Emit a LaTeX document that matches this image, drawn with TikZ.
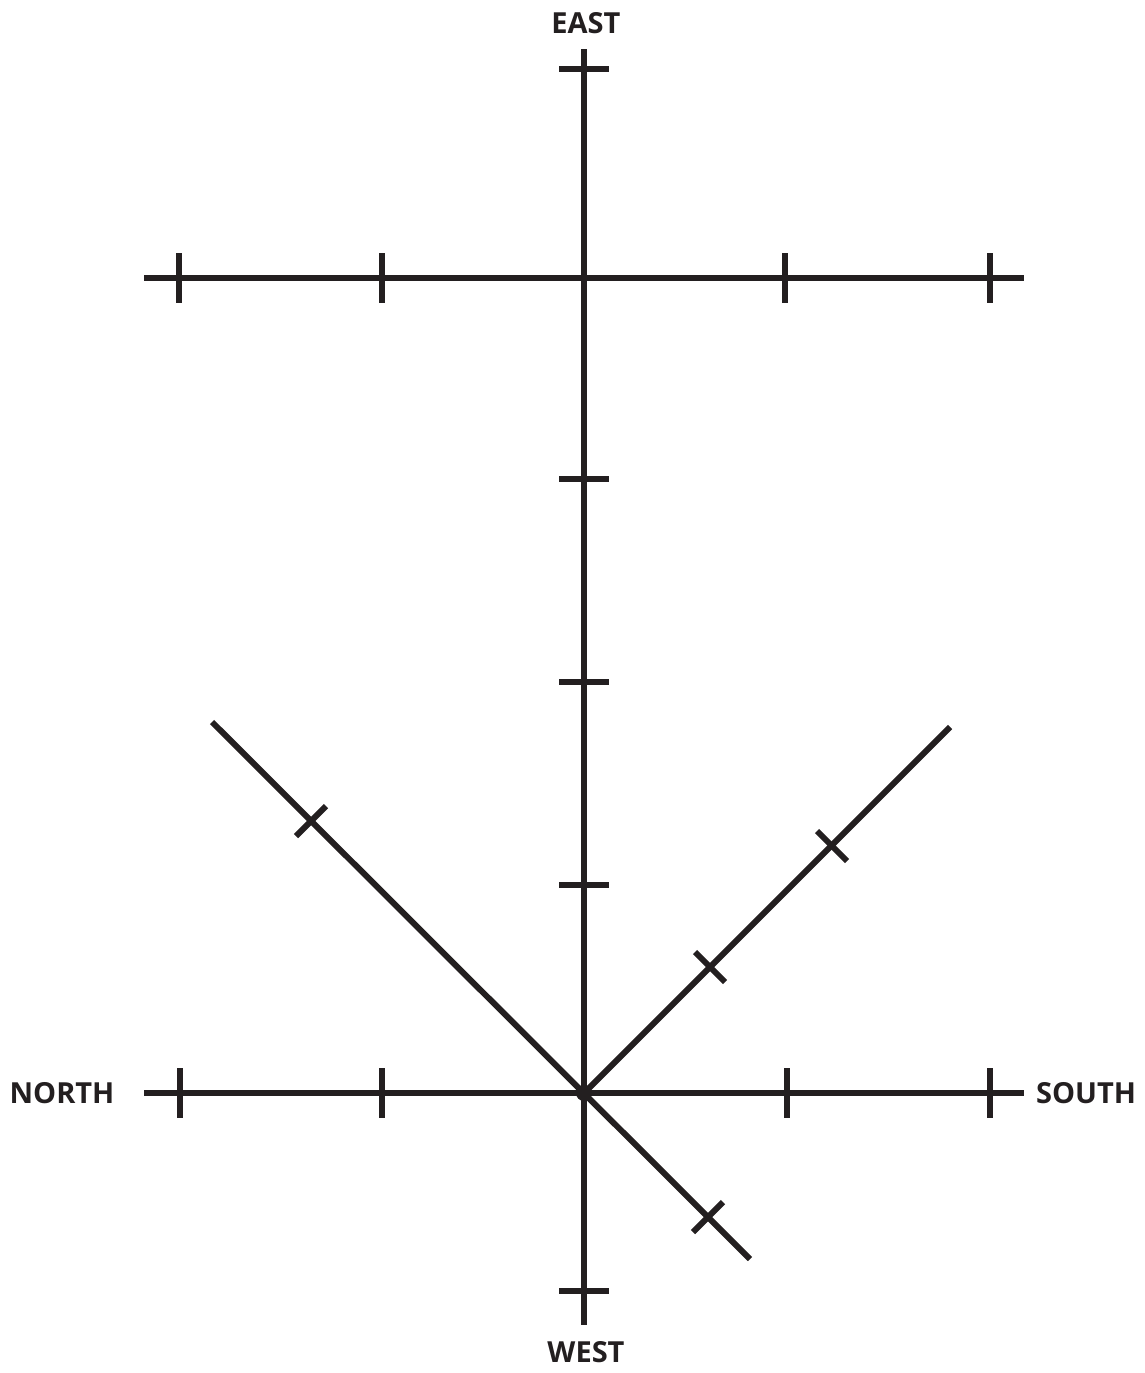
\documentclass[tikz,border=0pt]{standalone}
\usepackage{fontspec}
\setmainfont{Open Sans}
\definecolor{ink}{HTML}{231F20}
\begin{document}
\begin{tikzpicture}[x=1pt,y=-1pt,
  axis/.style={draw=ink,line width=6pt,line cap=butt},
  tickmark/.style={draw=ink,line width=6pt,line cap=butt},
  lbl/.style={text=ink,inner sep=0pt,font=\fontsize{29}{34}\selectfont\bfseries}]
\useasboundingbox (0,0) rectangle (1145,1373);
% main points
\coordinate (O) at (584,1093);
\coordinate (vtop) at (584,49);
\coordinate (vbot) at (584,1325);
\coordinate (tl) at (144,278);
\coordinate (tr) at (1024,278);
\coordinate (bl) at (144,1093);
\coordinate (br) at (1024,1093);
\coordinate (nw) at (212,722);
\coordinate (se) at (750,1259);
\coordinate (ne) at (950,727);
% axes
\path[axis] (vtop) -- (vbot);
\path[axis] (tl) -- (tr);
\path[axis] (bl) -- (br);
\path[axis] (nw) -- (se);
\path[axis] (O) -- (ne);
% ticks on vertical axis
\foreach \y/\n in {69/a,479/b,682/c,885/d,1291/e}{
  \coordinate (v\n1) at (559,\y);
  \coordinate (v\n2) at (609,\y);
  \path[tickmark] (v\n1) -- (v\n2);
}
% ticks on top horizontal
\foreach \x/\n in {179/a,382/b,785/c,990/d}{
  \coordinate (t\n1) at (\x,253);
  \coordinate (t\n2) at (\x,303);
  \path[tickmark] (t\n1) -- (t\n2);
}
% ticks on bottom horizontal
\foreach \x/\n in {180/a,382/b,787/c,990/d}{
  \coordinate (b\n1) at (\x,1068);
  \coordinate (b\n2) at (\x,1118);
  \path[tickmark] (b\n1) -- (b\n2);
}
% diagonal ticks
\coordinate (d11) at (326,806); \coordinate (d12) at (296,836);
\path[tickmark] (d11) -- (d12);
\coordinate (d21) at (723,1202); \coordinate (d22) at (693,1232);
\path[tickmark] (d21) -- (d22);
\coordinate (d31) at (817,831); \coordinate (d32) at (847,861);
\path[tickmark] (d31) -- (d32);
\coordinate (d41) at (695,952); \coordinate (d42) at (725,982);
\path[tickmark] (d41) -- (d42);
% centre dot
\fill[ink] (O) circle (8);
% labels
\node[lbl] (east) at (586,23) {EAST};
\node[lbl] (west) at (586,1352) {WEST};
\node[lbl] (north) at (62,1093) {NORTH};
\node[lbl] (south) at (1086,1093) {SOUTH};
\end{tikzpicture}
\end{document}
